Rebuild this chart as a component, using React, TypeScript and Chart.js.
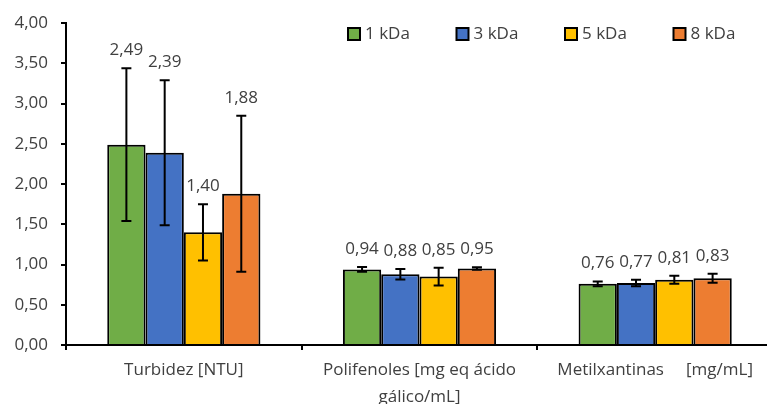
import React, { useEffect, useRef } from "react";
import { Chart, registerables } from "chart.js";
Chart.register(...registerables);

const categories: (string | string[])[] = [
  "Turbidez [NTU]",
  ["Polifenoles [mg eq ácido", "gálico/mL]"],
  "Metilxantinas     [mg/mL]",
];
const seriesLabels = ["1 kDa", "3 kDa", "5 kDa", "8 kDa"];
const values1 = [2.49, 0.94, 0.76];
const values3 = [2.39, 0.88, 0.77];
const values5 = [1.4, 0.85, 0.81];
const values8 = [1.88, 0.95, 0.83];
const err1 = [0.95, 0.03, 0.03];
const err3 = [0.9, 0.065, 0.04];
const err5 = [0.35, 0.11, 0.05];
const err8 = [0.97, 0.015, 0.055];
const yMin = 0;
const yMax = 4;
const yStep = 0.5;

const seriesValues = [values1, values3, values5, values8];
const seriesErrors = [err1, err3, err5, err8];
const seriesColors = ["#70AD47", "#4472C4", "#FFC000", "#ED7D31"];

const FONT = "'Open Sans', sans-serif";
const FONT_SIZE = 17;
const TEXT_COLOR = "#404040";
const fmt = (v: number) => v.toFixed(2).replace(".", ",");

const errorBarsPlugin = {
  id: "errorBars",
  afterDatasetsDraw(chart: any) {
    const ctx = chart.ctx;
    const y = chart.scales.y;
    ctx.save();
    ctx.strokeStyle = "#000";
    ctx.lineWidth = 2;
    chart.data.datasets.forEach((ds: any, i: number) => {
      const meta = chart.getDatasetMeta(i);
      meta.data.forEach((bar: any, j: number) => {
        const v = ds.data[j];
        const e = ds.errors[j];
        const top = y.getPixelForValue(v + e);
        const bot = y.getPixelForValue(v - e);
        const x = bar.x;
        ctx.beginPath();
        ctx.moveTo(x, top);
        ctx.lineTo(x, bot);
        ctx.moveTo(x - 5, top);
        ctx.lineTo(x + 5, top);
        ctx.moveTo(x - 5, bot);
        ctx.lineTo(x + 5, bot);
        ctx.stroke();
      });
    });
    ctx.restore();
  },
};

const dataLabelsPlugin = {
  id: "dataLabels",
  afterDatasetsDraw(chart: any) {
    const ctx = chart.ctx;
    const y = chart.scales.y;
    ctx.save();
    ctx.fillStyle = TEXT_COLOR;
    ctx.font = `${FONT_SIZE}px ${FONT}`;
    ctx.textAlign = "center";
    ctx.textBaseline = "middle";
    chart.data.datasets.forEach((ds: any, i: number) => {
      const meta = chart.getDatasetMeta(i);
      meta.data.forEach((bar: any, j: number) => {
        const v = ds.data[j];
        const e = ds.errors[j];
        const top = y.getPixelForValue(v + e);
        ctx.fillText(fmt(v), bar.x, top - 18);
      });
    });
    ctx.restore();
  },
};

const legendPlugin = {
  id: "customLegend",
  afterDraw(chart: any) {
    const ctx = chart.ctx;
    const startX = 348;
    const step = 108.5;
    const cy = 34;
    const box = 12;
    ctx.save();
    ctx.font = `${FONT_SIZE}px ${FONT}`;
    ctx.textBaseline = "middle";
    ctx.textAlign = "left";
    chart.data.datasets.forEach((ds: any, i: number) => {
      const bx = startX + i * step;
      ctx.fillStyle = ds.backgroundColor;
      ctx.fillRect(bx, cy - box / 2, box, box);
      ctx.strokeStyle = "#000";
      ctx.lineWidth = 2;
      ctx.strokeRect(bx, cy - box / 2, box, box);
      ctx.fillStyle = TEXT_COLOR;
      ctx.fillText(ds.label, bx + box + 5, cy);
    });
    ctx.restore();
  },
};

export default function App() {
  const ref = useRef<HTMLCanvasElement | null>(null);
  useEffect(() => {
    document.body.style.overflow = "hidden";
    const canvas = ref.current!;
    const chart = new Chart(canvas, {
      type: "bar",
      data: {
        labels: categories as any,
        datasets: seriesLabels.map((label, i) => ({
          label,
          data: seriesValues[i],
          errors: seriesErrors[i],
          backgroundColor: seriesColors[i],
          borderColor: "#000",
          borderWidth: 2,
          borderSkipped: "bottom",
          categoryPercentage: 0.65,
          barPercentage: 1,
        })) as any,
      },
      options: {
        responsive: false,
        animation: false,
        devicePixelRatio: 1,
        layout: { padding: { left: 0, right: 7, top: 21, bottom: 0 } },
        plugins: {
          legend: { display: false },
          tooltip: { enabled: false },
          title: { display: false },
        },
        scales: {
          x: {
            type: "category",
            offset: true,
            grid: {
              display: true,
              offset: true,
              drawOnChartArea: false,
              drawTicks: true,
              tickLength: 5,
              color: "#000",
              lineWidth: 2,
            },
            border: { display: true, color: "#000", width: 2 },
            ticks: {
              color: TEXT_COLOR,
              font: { family: FONT, size: FONT_SIZE, lineHeight: 1.57 },
              padding: 7,
              maxRotation: 0,
              autoSkip: false,
            },
            afterFit(scale: any) {
              scale.height = 59;
            },
          },
          y: {
            min: yMin,
            max: yMax,
            ticks: {
              stepSize: yStep,
              color: TEXT_COLOR,
              font: { family: FONT, size: FONT_SIZE },
              padding: 13,
              callback: (v: any) => fmt(Number(v)),
            },
            grid: {
              display: true,
              drawOnChartArea: false,
              drawTicks: true,
              tickLength: 5,
              color: "#000",
              lineWidth: 2,
            },
            border: { display: true, color: "#000", width: 2 },
            afterFit(scale: any) {
              scale.width = 66;
            },
          },
        },
      } as any,
      plugins: [errorBarsPlugin, dataLabelsPlugin, legendPlugin],
    });
    return () => chart.destroy();
  }, []);
  return (
    <div style={{ position: "fixed", left: 0, top: 0, width: 780, height: 404, background: "#fff" }}>
      <canvas ref={ref} width={780} height={404} style={{ display: "block" }} />
    </div>
  );
}
